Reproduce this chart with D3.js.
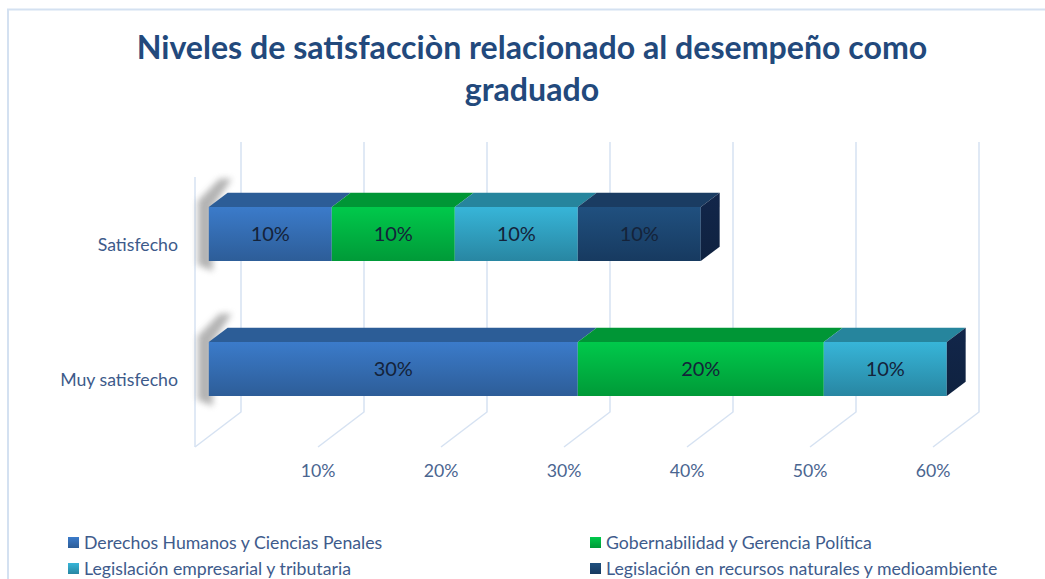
<!DOCTYPE html>
<html>
<head>
<meta charset="utf-8">
<script src="https://cdn.jsdelivr.net/npm/d3@7"></script>
<style>
  html, body { margin: 0; padding: 0; background: #fff; }
  svg { display: block; font-family: Lato, "Open Sans", sans-serif; }
</style>
</head>
<body>
<div id="chart"></div>
<script>
/* DATA */
const categories = ["Satisfecho", "Muy satisfecho"];
const seriesNames = [
  "Derechos Humanos y Ciencias Penales",
  "Gobernabilidad y Gerencia Política",
  "Legislación empresarial y tributaria",
  "Legislación en recursos naturales y medioambiente"
];
// values per category, one per series (percent)
const satisfechoValues = [10, 10, 10, 10];
const muySatisfechoValues = [30, 20, 10, 0];
const tickValues = [10, 20, 30, 40, 50, 60];
const titleLines = ["Niveles de satisfacciòn relacionado al desempeño como", "graduado"];

/* CONSTANTS */
const width = 1045, height = 579;
const depth = { dx: 46, dy: -35 };      // floor depth offset (front -> back)
const barDepth = [0.3, 0.71];            // bar occupies this slice of the depth
const seriesColors = [
  { top: "#3b7bca", bottom: "#2d5d98", lid: "#2c5d97", side: "#1f4272" },
  { top: "#00c94b", bottom: "#009a38", lid: "#009636", side: "#006b27" },
  { top: "#37b5d8", bottom: "#2886a2", lid: "#26859d", side: "#1a5d6e" },
  { top: "#20507f", bottom: "#173a60", lid: "#1a3c62", side: "#12264a" }
];
const gridColor = "#d6e2f2";
const labelSize = 17.7;

const rows = categories.map((c, i) => ({
  cat: c,
  values: i === 0 ? satisfechoValues : muySatisfechoValues
}));

const svg = d3.select("#chart").append("svg")
  .attr("width", width)
  .attr("height", height);

// chart frame
svg.append("rect")
  .attr("x", 8).attr("y", 9.5)
  .attr("width", width + 10).attr("height", height + 10)
  .attr("fill", "none")
  .attr("stroke", "#d4e1f1")
  .attr("stroke-width", 2);

/* SCALES */
const xScale = d3.scaleLinear().domain([0, 60]).range([195, 933]);
const yScale = d3.scaleBand()
  .domain(categories)
  .range([177, 447])
  .paddingInner(0.6)
  .paddingOuter(0.3);

const pt = (v, y, d) => [xScale(v) + depth.dx * d, y + depth.dy * d];
const floorY = yScale.range()[1], topY = yScale.range()[0];

/* DEFS */
const defs = svg.append("defs");
seriesColors.forEach((c, i) => {
  const g = defs.append("linearGradient")
    .attr("id", "grad" + i)
    .attr("x1", 0).attr("y1", 0).attr("x2", 0).attr("y2", 1);
  g.append("stop").attr("offset", "0%").attr("stop-color", c.top);
  g.append("stop").attr("offset", "100%").attr("stop-color", c.bottom);
  const s = defs.append("linearGradient")
    .attr("id", "side" + i)
    .attr("x1", 0).attr("y1", 0).attr("x2", 0).attr("y2", 1);
  s.append("stop").attr("offset", "0%").attr("stop-color", c.side);
  s.append("stop").attr("offset", "100%").attr("stop-color", "#0f2240");
});
defs.append("filter").attr("id", "blur")
  .attr("x", "-100%").attr("y", "-30%").attr("width", "300%").attr("height", "160%")
  .append("feGaussianBlur").attr("stdDeviation", 3);

/* GRID (back wall, floor, left wall) */
const grid = svg.append("g").attr("stroke", gridColor).attr("stroke-width", 1.5).attr("fill", "none");
const gridVals = [0].concat(tickValues);
grid.selectAll("path.g")
  .data(gridVals)
  .join("path")
  .attr("class", "g")
  .attr("d", v => {
    const a = pt(v, topY, 1), b = pt(v, floorY, 1), c = pt(v, floorY, 0);
    return `M${a}L${b}L${c}`;
  });
grid.append("path")
  .attr("d", `M${pt(0, topY, 0)}L${pt(0, floorY, 0)}`);

/* TICK LABELS */
svg.append("g")
  .selectAll("text")
  .data(tickValues)
  .join("text")
  .attr("x", d => xScale(d))
  .attr("y", 477)
  .attr("text-anchor", "middle")
  .attr("font-size", labelSize)
  .attr("fill", "#4a6590")
  .text(d => d + "%");

/* CATEGORY LABELS */
svg.append("g")
  .selectAll("text")
  .data(categories)
  .join("text")
  .attr("x", 178)
  .attr("y", d => yScale(d) + yScale.bandwidth() / 2 + 6)
  .attr("text-anchor", "end")
  .attr("font-size", labelSize)
  .attr("fill", "#3d5a8a")
  .text(d => d);

/* BARS */
const barsG = svg.append("g");
rows.forEach(row => {
  const y0 = yScale(row.cat), y1 = y0 + yScale.bandwidth();
  const [d0, d1] = barDepth;
  const g = barsG.append("g");

  // soft shadow on the left wall
  const sTop = pt(0, y0, d1), sFront = pt(0, y0, d0);
  const sBot = y1 + depth.dy * d0;
  g.append("polygon")
    .attr("points", [
      [sFront[0] - 11, sFront[1] - 6], [sTop[0] - 8, sTop[1] - 14], [sTop[0] + 4, sTop[1] - 14],
      [sFront[0] + 4, sFront[1]], [sFront[0] + 4, sBot + 10], [sFront[0] - 11, sBot + 4]
    ].map(p => p.join(",")).join(" "))
    .attr("fill", "#777")
    .attr("opacity", 0.55)
    .attr("filter", "url(#blur)");

  let acc = 0;
  const segs = row.values.map((v, i) => {
    const s = { i, v, start: acc, end: acc + v };
    acc += v;
    return s;
  });

  const seg = g.selectAll("g.seg").data(segs).join("g").attr("class", "seg");

  // front face
  seg.append("polygon")
    .attr("points", d => [pt(d.start, y0, d0), pt(d.end, y0, d0), pt(d.end, y1, d0), pt(d.start, y1, d0)]
      .map(p => p.join(",")).join(" "))
    .attr("fill", d => `url(#grad${d.i})`);
  // top face
  seg.append("polygon")
    .attr("points", d => [pt(d.start, y0, d0), pt(d.end, y0, d0), pt(d.end, y0, d1), pt(d.start, y0, d1)]
      .map(p => p.join(",")).join(" "))
    .attr("fill", d => seriesColors[d.i].lid);
  // right side face (only the last one stays visible)
  seg.filter(d => d.i === segs.length - 1)
    .append("polygon")
    .attr("points", d => [pt(d.end, y0, d0), pt(d.end, y0, d1), pt(d.end, y1, d1), pt(d.end, y1, d0)]
      .map(p => p.join(",")).join(" "))
    .attr("fill", d => `url(#side${d.i})`);

  // value labels
  seg.filter(d => d.v > 0)
    .append("text")
    .attr("x", d => (pt(d.start, 0, d0)[0] + pt(d.end, 0, d0)[0]) / 2)
    .attr("y", (y0 + y1) / 2 + depth.dy * d0 + 7)
    .attr("text-anchor", "middle")
    .attr("font-size", 20)
    .attr("fill", "#14233a")
    .text(d => d.v + "%");
});

/* TITLE */
const title = svg.append("g")
  .attr("font-weight", "bold")
  .attr("fill", "#22497c")
  .attr("text-anchor", "middle");
const t1 = title.append("text").attr("x", 532).attr("y", 59).attr("font-size", 28).text(titleLines[0]);
const w1 = t1.node().getComputedTextLength();
const fs = 28 * 791 / w1;
t1.attr("font-size", fs);
title.append("text").attr("x", 532).attr("y", 101).attr("font-size", fs).text(titleLines[1]);

/* LEGEND */
const legendPos = [[68, 543], [590, 543], [68, 569], [590, 569]];
const legend = svg.append("g")
  .selectAll("g")
  .data(seriesNames)
  .join("g")
  .attr("transform", (d, i) => `translate(${legendPos[i][0]},${legendPos[i][1]})`);
legend.append("rect")
  .attr("x", 0).attr("y", -6)
  .attr("width", 11).attr("height", 11)
  .attr("fill", (d, i) => `url(#grad${i})`);
legend.append("text")
  .attr("x", 16).attr("y", 6)
  .attr("font-size", labelSize)
  .attr("fill", "#3e5b8c")
  .text(d => d);
</script>
</body>
</html>
